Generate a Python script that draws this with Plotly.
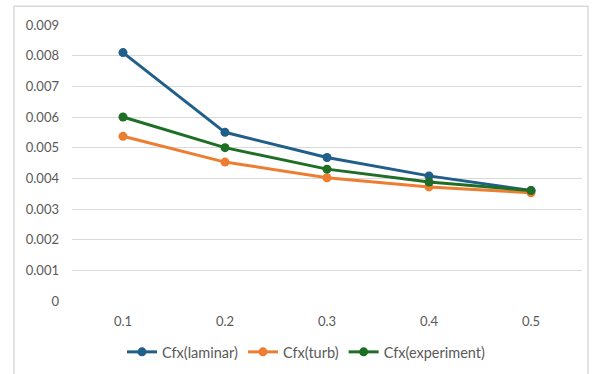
import plotly.graph_objects as go

# Distance along the plate and the skin-friction coefficient series
x_labels = ["0.1", "0.2", "0.3", "0.4", "0.5"]
cfx_laminar = [0.0081, 0.0055, 0.00468, 0.00408, 0.0036]
cfx_turb = [0.00537, 0.00453, 0.00402, 0.00372, 0.00353]
cfx_experiment = [0.0060, 0.0050, 0.0043, 0.00388, 0.0036]

y_ticks = [0, 0.001, 0.002, 0.003, 0.004, 0.005, 0.006, 0.007, 0.008, 0.009]
y_tick_text = ["0", "0.001", "0.002", "0.003", "0.004", "0.005", "0.006", "0.007", "0.008", "0.009"]

series = [
    ("Cfx(laminar)", cfx_laminar, "#215F8A"),
    ("Cfx(turb)", cfx_turb, "#ED7D31"),
    ("Cfx(experiment)", cfx_experiment, "#1E6E25"),
]

fig = go.Figure()
for name, values, color in series:
    fig.add_trace(go.Scatter(
        x=x_labels, y=values, name=name, mode="lines+markers",
        line=dict(color=color, width=3),
        marker=dict(color=color, size=9),
    ))

font = dict(family="Lato, Carlito, sans-serif", size=13, color="#595959")
legend_font = dict(family="Lato, Carlito, sans-serif", size=14.5, color="#595959")

fig.update_layout(
    width=600, height=374,
    margin=dict(l=72, r=18, t=25, b=73, autoexpand=False),
    paper_bgcolor="white", plot_bgcolor="white",
    font=font,
    showlegend=True,
    legend=dict(
        orientation="h", xref="container", yref="container",
        x=0.51, xanchor="center", y=0.059, yanchor="middle",
        font=legend_font, itemwidth=30, traceorder="normal",
    ),
    xaxis=dict(
        type="category", range=[-0.5, 4.5], automargin=False,
        showgrid=False, zeroline=False, showline=False,
        ticks="", ticklabelstandoff=11,
    ),
    yaxis=dict(
        range=[0, 0.009], tickvals=y_ticks, ticktext=y_tick_text,
        automargin=False,
        showgrid=True, gridcolor="#D9D9D9", gridwidth=1,
        zeroline=False, showline=False, ticks="", ticklabelstandoff=12,
    ),
    shapes=[dict(
        type="rect", xref="paper", yref="paper",
        x0=-58 / 510, x1=516 / 510, y0=-0.5, y1=(300.7 - 6) / 276,
        line=dict(color="#D9D9D9", width=1.5), fillcolor="rgba(0,0,0,0)",
        layer="below",
    )],
)

fig.write_html("out.html")
